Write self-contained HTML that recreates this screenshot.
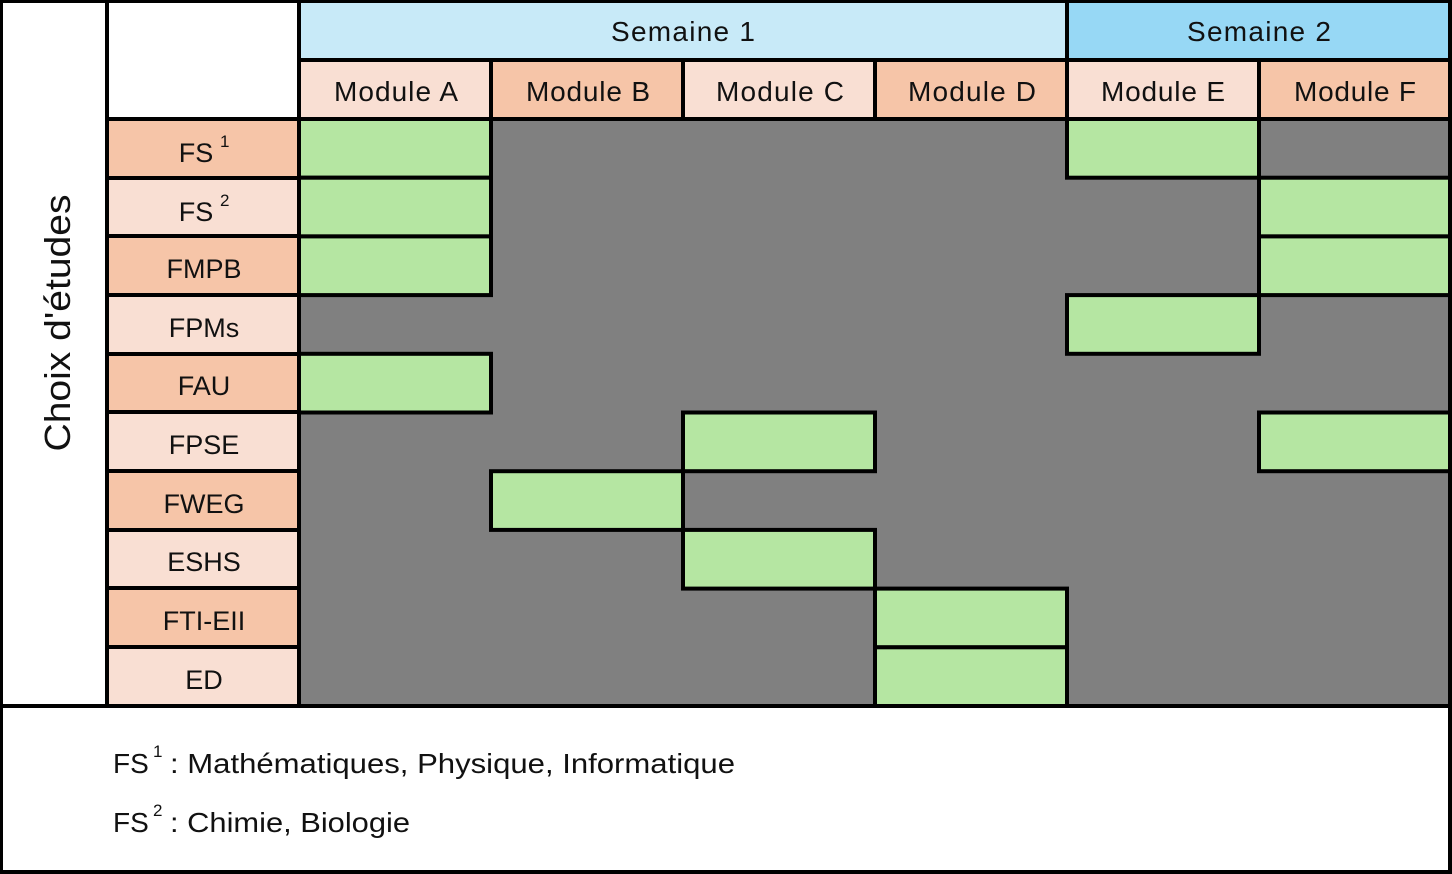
<!DOCTYPE html>
<html><head><meta charset="utf-8"><style>
html,body{margin:0;padding:0;background:#fff;}
svg{display:block;}
text{font-family:"Liberation Sans",sans-serif;fill:#111;}
</style></head><body>
<svg width="1452" height="874" viewBox="0 0 1452 874" xmlns="http://www.w3.org/2000/svg">
<rect x="0" y="0" width="1452" height="874" fill="#fff"/>
<rect x="299" y="2" width="768" height="57" fill="#c8eaf8"/>
<rect x="1067" y="2" width="383" height="57" fill="#97d8f5"/>
<rect x="299" y="60" width="192" height="58" fill="#f9dfd3"/>
<rect x="491" y="60" width="192" height="58" fill="#f6c5a8"/>
<rect x="683" y="60" width="192" height="58" fill="#f9dfd3"/>
<rect x="875" y="60" width="192" height="58" fill="#f6c5a8"/>
<rect x="1067" y="60" width="192" height="58" fill="#f9dfd3"/>
<rect x="1259" y="60" width="191" height="58" fill="#f6c5a8"/>
<rect x="107" y="119" width="192" height="59" fill="#f6c5a8"/>
<rect x="107" y="178" width="192" height="59" fill="#f9dfd3"/>
<rect x="107" y="236" width="192" height="59" fill="#f6c5a8"/>
<rect x="107" y="295" width="192" height="59" fill="#f9dfd3"/>
<rect x="107" y="354" width="192" height="59" fill="#f6c5a8"/>
<rect x="107" y="412" width="192" height="59" fill="#f9dfd3"/>
<rect x="107" y="471" width="192" height="59" fill="#f6c5a8"/>
<rect x="107" y="530" width="192" height="59" fill="#f9dfd3"/>
<rect x="107" y="588" width="192" height="59" fill="#f6c5a8"/>
<rect x="107" y="647" width="192" height="59" fill="#f9dfd3"/>
<rect x="299" y="119" width="1151" height="587" fill="#808080"/>
<g fill="#000">
<rect x="0" y="0" width="1452" height="3"/>
<rect x="0" y="0" width="3" height="874"/>
<rect x="1448" y="0" width="4" height="874"/>
<rect x="0" y="870" width="1452" height="4"/>
<rect x="0" y="704" width="1452" height="4"/>
<rect x="105" y="0" width="4" height="706"/>
<rect x="297" y="0" width="4" height="706"/>
<rect x="297" y="58" width="1153" height="4"/>
<rect x="105" y="117" width="1345" height="4"/>
<rect x="1065" y="0" width="4" height="60"/>
<rect x="489" y="60" width="4" height="59"/>
<rect x="681" y="60" width="4" height="59"/>
<rect x="873" y="60" width="4" height="59"/>
<rect x="1065" y="60" width="4" height="59"/>
<rect x="1257" y="60" width="4" height="59"/>
<rect x="105" y="176" width="194" height="4"/>
<rect x="105" y="234" width="194" height="4"/>
<rect x="105" y="293" width="194" height="4"/>
<rect x="105" y="352" width="194" height="4"/>
<rect x="105" y="410" width="194" height="4"/>
<rect x="105" y="469" width="194" height="4"/>
<rect x="105" y="528" width="194" height="4"/>
<rect x="105" y="586" width="194" height="4"/>
<rect x="105" y="645" width="194" height="4"/>
</g>
<g fill="#b5e6a2" stroke="#000" stroke-width="4">
<rect x="299" y="119" width="192" height="58.7"/>
<rect x="299" y="177.7" width="192" height="58.7"/>
<rect x="299" y="236.4" width="192" height="58.7"/>
<rect x="299" y="353.8" width="192" height="58.7"/>
<rect x="491" y="471.2" width="192" height="58.7"/>
<rect x="683" y="412.5" width="192" height="58.7"/>
<rect x="683" y="529.9" width="192" height="58.7"/>
<rect x="875" y="588.6" width="192" height="58.7"/>
<rect x="875" y="647.3" width="192" height="58.7"/>
<rect x="1067" y="119" width="192" height="58.7"/>
<rect x="1067" y="295.1" width="192" height="58.7"/>
<rect x="1259" y="177.7" width="191" height="58.7"/>
<rect x="1259" y="236.4" width="191" height="58.7"/>
<rect x="1259" y="412.5" width="191" height="58.7"/>
</g>
<g font-size="28" text-anchor="middle" lengthAdjust="spacingAndGlyphs">
<text x="683" y="41" textLength="144">Semaine 1</text>
<text x="1259" y="41" textLength="144">Semaine 2</text>
<text x="396" y="101" textLength="124">Module A</text>
<text x="588" y="101" textLength="124">Module B</text>
<text x="780" y="101" textLength="128">Module C</text>
<text x="972" y="101" textLength="128">Module D</text>
<text x="1163" y="101" textLength="124">Module E</text>
<text x="1355" y="101" textLength="122">Module F</text>
</g>
<g font-size="27" text-anchor="middle">
<text x="196" y="162">FS</text>
<text x="196" y="221">FS</text>
<text x="204" y="278">FMPB</text>
<text x="204" y="337">FPMs</text>
<text x="204" y="395">FAU</text>
<text x="204" y="454">FPSE</text>
<text x="204" y="513">FWEG</text>
<text x="204" y="571">ESHS</text>
<text x="204" y="630">FTI-EII</text>
<text x="204" y="689">ED</text>
</g>
<text x="220" y="147" font-size="17">1</text>
<text x="220" y="206" font-size="17">2</text>
<text transform="translate(70,323) rotate(-90)" font-size="36" text-anchor="middle" textLength="257" lengthAdjust="spacingAndGlyphs">Choix d'études</text>
<text x="113" y="773" font-size="28">FS</text>
<text x="153" y="757" font-size="17">1</text>
<text x="170" y="773" font-size="28" textLength="565" lengthAdjust="spacingAndGlyphs">: Mathématiques, Physique, Informatique</text>
<text x="113" y="832" font-size="28">FS</text>
<text x="153" y="816" font-size="17">2</text>
<text x="170" y="832" font-size="28" textLength="240" lengthAdjust="spacingAndGlyphs">: Chimie, Biologie</text>
</svg>
</body></html>
